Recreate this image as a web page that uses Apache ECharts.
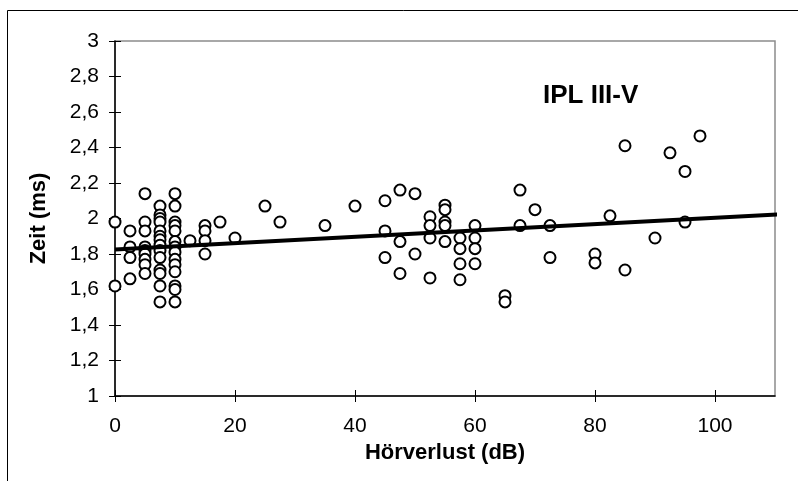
<!DOCTYPE html>
<html>
<head>
<meta charset="utf-8">
<script src="https://cdn.jsdelivr.net/npm/echarts@6/dist/echarts.min.js"></script>
<style>
html,body{margin:0;padding:0;background:#fff;}
#chart{width:798px;height:481px;}
</style>
</head>
<body>
<div id="chart"></div>
<script>
// Hörverlust (dB) of each measured point
const hearingLoss = [
  0, 0,
  2.5, 2.5, 2.5, 2.5,
  5, 5, 5, 5, 5, 5, 5, 5, 5,
  7.5, 7.5, 7.5, 7.5, 7.5, 7.5, 7.5, 7.5, 7.5, 7.5, 7.5, 7.5, 7.5, 7.5,
  10, 10, 10, 10, 10, 10, 10, 10, 10, 10, 10, 10, 10, 10,
  12.5,
  15, 15, 15, 15,
  17.5, 20, 25, 27.5, 35, 40,
  45, 45, 45,
  47.5, 47.5, 47.5,
  50, 50,
  52.5, 52.5, 52.5, 52.5,
  55, 55, 55, 55, 55,
  57.5, 57.5, 57.5, 57.5,
  60, 60, 60, 60,
  65, 65,
  67.5, 67.5,
  70,
  72.5, 72.5,
  80, 80,
  82.5,
  85, 85,
  90, 92.5,
  95, 95,
  97.5
];
// Zeit (ms) of each measured point
const latency = [
  1.98, 1.62,
  1.93, 1.84, 1.78, 1.66,
  2.14, 1.98, 1.93, 1.84, 1.82, 1.80, 1.77, 1.74, 1.69,
  2.07, 2.02, 2.00, 1.98, 1.93, 1.90, 1.88, 1.85, 1.82, 1.78, 1.71, 1.69, 1.62, 1.53,
  2.14, 2.07, 1.98, 1.96, 1.93, 1.87, 1.84, 1.81, 1.77, 1.74, 1.70, 1.62, 1.60, 1.53,
  1.875,
  1.96, 1.93, 1.875, 1.80,
  1.98, 1.89, 2.07, 1.98, 1.96, 2.07,
  2.10, 1.93, 1.78,
  2.16, 1.87, 1.69,
  2.14, 1.80,
  2.01, 1.96, 1.89, 1.665,
  2.075, 2.05, 1.98, 1.96, 1.87,
  1.89, 1.83, 1.745, 1.655,
  1.96, 1.89, 1.83, 1.745,
  1.565, 1.53,
  2.16, 1.96,
  2.05,
  1.96, 1.78,
  1.80, 1.75,
  2.015,
  2.41, 1.71,
  1.89, 2.37,
  2.265, 1.98,
  2.465
];
// linear trend line end points
const trendX = [0, 112];
const trendY = [1.826, 2.026];
// tick labels
const xTicks = [0, 20, 40, 60, 80, 100];
const yTicks = [1, 1.2, 1.4, 1.6, 1.8, 2, 2.2, 2.4, 2.6, 2.8, 3];

const FONT = '"Liberation Sans", Arial, sans-serif';
const chart = echarts.init(document.getElementById('chart'), null, {renderer: 'canvas'});

const fmtY = v => String(Math.round(v * 10) / 10).replace('.', ',');

const option = {
  backgroundColor: '#ffffff',
  animation: false,
  graphic: [{
    type: 'rect',
    shape: {x: 7.5, y: 10.5, width: 900, height: 600},
    style: {fill: 'none', stroke: '#000', lineWidth: 1},
    silent: true, z: -10
  }],
  title: {
    text: 'IPL III-V',
    left: 543, top: 83,
    padding: 0,
    textStyle: {fontFamily: FONT, fontWeight: 'bold', fontSize: 26, color: '#000'}
  },
  grid: {
    left: 115, right: 23, top: 41, bottom: 85,
    show: true, borderColor: '#8c8c8c', borderWidth: 1.5, backgroundColor: 'transparent'
  },
  xAxis: [{
    type: 'value', min: 0, max: 110, interval: 20, position: 'bottom',
    name: 'Hörverlust (dB)', nameLocation: 'middle', nameGap: 45,
    nameTextStyle: {fontFamily: FONT, fontWeight: 'bold', fontSize: 22, color: '#000'},
    axisLine: {show: true, lineStyle: {color: '#000', width: 1.5}},
    axisTick: {show: true, inside: false, length: 6, customValues: xTicks, lineStyle: {color: '#000', width: 1}},
    axisLabel: {show: true, customValues: xTicks, margin: 20, fontFamily: FONT, fontSize: 21, color: '#000'},
    splitLine: {show: false}
  }, {
    type: 'value', min: 0, max: 110, interval: 20, position: 'bottom', offset: 0,
    axisLine: {show: false},
    axisTick: {show: true, inside: true, length: 6, customValues: xTicks, lineStyle: {color: '#000', width: 1}},
    axisLabel: {show: false},
    splitLine: {show: false}
  }],
  yAxis: [{
    type: 'value', min: 1, max: 3, interval: 0.2, position: 'left',
    name: 'Zeit (ms)', nameLocation: 'middle', nameGap: 65,
    nameTextStyle: {fontFamily: FONT, fontWeight: 'bold', fontSize: 22, color: '#000'},
    axisLine: {show: true, lineStyle: {color: '#000', width: 1.5}},
    axisTick: {show: true, inside: false, length: 6, customValues: yTicks, lineStyle: {color: '#000', width: 1}},
    axisLabel: {show: true, customValues: yTicks, margin: 16, fontFamily: FONT, fontSize: 21, color: '#000', formatter: fmtY},
    splitLine: {show: false}
  }, {
    type: 'value', min: 1, max: 3, interval: 0.2, position: 'left', offset: 0,
    axisLine: {show: false},
    axisTick: {show: true, inside: true, length: 6, customValues: yTicks, lineStyle: {color: '#000', width: 1}},
    axisLabel: {show: false},
    splitLine: {show: false}
  }],
  series: [{
    type: 'scatter',
    xAxisIndex: 0, yAxisIndex: 0,
    data: hearingLoss.map((x, i) => [x, latency[i]]),
    symbol: 'circle', symbolSize: 11,
    itemStyle: {color: '#fff', borderColor: '#000', borderWidth: 2, opacity: 1},
    z: 2
  }, {
    type: 'line',
    xAxisIndex: 0, yAxisIndex: 0,
    data: trendX.map((x, i) => [x, trendY[i]]),
    showSymbol: false, symbol: 'none',
    clip: false,
    lineStyle: {color: '#000', width: 4},
    z: 3
  }]
};
chart.setOption(option);
</script>
</body>
</html>
